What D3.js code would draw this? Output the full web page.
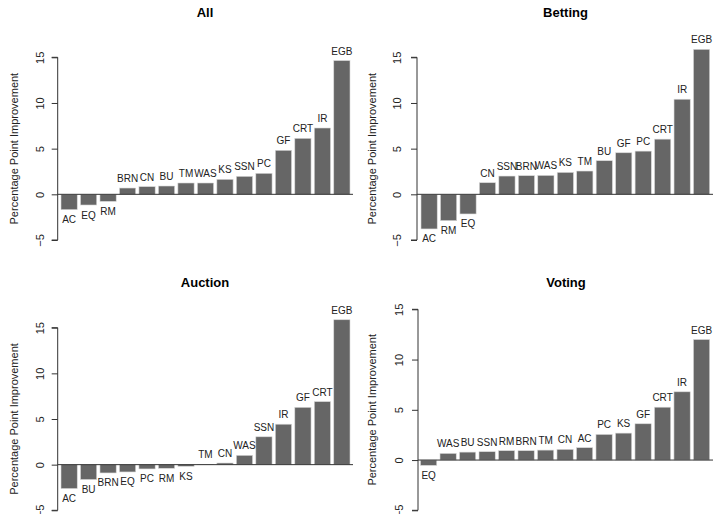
<!DOCTYPE html>
<html>
<head>
<meta charset="utf-8">
<script src="https://cdn.jsdelivr.net/npm/d3@7/dist/d3.min.js"></script>
<style>
  html, body { margin: 0; padding: 0; background: #fff; }
  svg { display: block; font-family: "Liberation Sans", Arial, Helvetica, sans-serif; }
</style>
</head>
<body>
<svg id="chart" width="714" height="514"></svg>
<script>
// ---- Data ----
const panelTitles = ["All", "Betting", "Auction", "Voting"];

const allCategories = ["AC","EQ","RM","BRN","CN","BU","TM","WAS","KS","SSN","PC","GF","CRT","IR","EGB"];
const allValues     = [-1.68,-1.17,-0.77,0.69,0.84,0.91,1.24,1.24,1.64,1.97,2.30,4.82,6.13,7.26,14.64];

const bettingCategories = ["AC","RM","EQ","CN","SSN","BRN","WAS","KS","TM","BU","GF","PC","CRT","IR","EGB"];
const bettingValues     = [-3.79,-2.88,-2.15,1.27,2.00,2.04,2.07,2.40,2.55,3.68,4.55,4.73,6.04,10.41,15.87];

const auctionCategories = ["AC","BU","BRN","EQ","PC","RM","KS","TM","CN","WAS","SSN","IR","GF","CRT","EGB"];
const auctionValues     = [-2.62,-1.63,-0.91,-0.80,-0.47,-0.40,-0.18,0.03,0.18,1.02,3.05,4.43,6.28,6.90,15.87];

const votingCategories = ["EQ","WAS","BU","SSN","RM","BRN","TM","CN","AC","PC","KS","GF","CRT","IR","EGB"];
const votingValues     = [-0.53,0.66,0.79,0.83,0.93,0.93,0.99,1.06,1.23,2.55,2.68,3.61,5.26,6.79,11.99];

const yTicks = [-5, 0, 5, 10, 15];
const yLabel = "Percentage Point Improvement";

// ---- Layout (pixel geometry per panel) ----
const panels = [
  { title: panelTitles[0], cats: allCategories, vals: allValues,
    axisX: 57.7, yTop: 57.3, yBot: 240, barL: 61, barR: 350, zeroR: 353,
    titleX: 205, titleY: 12.3, labX: 13.5, tickX: 40 },
  { title: panelTitles[1], cats: bettingCategories, vals: bettingValues,
    axisX: 417, yTop: 57.3, yBot: 240, barL: 421, barR: 709.7, zeroR: 713,
    titleX: 565.5, titleY: 12.3, labX: 371.5, tickX: 397 },
  { title: panelTitles[2], cats: auctionCategories, vals: auctionValues,
    axisX: 57.7, yTop: 327.7, yBot: 510.3, barL: 61, barR: 350, zeroR: 353,
    titleX: 205, titleY: 282, labX: 13.5, tickX: 40 },
  { title: panelTitles[3], cats: votingCategories, vals: votingValues,
    axisX: 418, yTop: 309.3, yBot: 510.3, barL: 420.5, barR: 709.7, zeroR: 713,
    titleX: 566, titleY: 282, labX: 372, tickX: 399 }
];

const svg = d3.select("#chart");
const barColor = "#666666";

panels.forEach(p => {
  const g = svg.append("g");
  const y = d3.scaleLinear().domain([-5, 15]).range([p.yBot, p.yTop]);
  const x = d3.scaleBand().domain(p.cats).range([p.barL, p.barR])
    .paddingInner(1/6).paddingOuter(0);

  // title
  g.append("text")
    .attr("x", p.titleX).attr("y", p.titleY)
    .attr("text-anchor", "middle").attr("dominant-baseline", "central")
    .attr("font-size", 13).attr("font-weight", "bold").attr("fill", "#000")
    .text(p.title);

  // y label
  g.append("text")
    .attr("transform", `translate(${p.labX},${(p.yTop + p.yBot) / 2 + (p.yBot - p.yTop) * 0.0}) rotate(-90)`)
    .attr("text-anchor", "middle").attr("dominant-baseline", "central")
    .attr("font-size", 11).attr("fill", "#222")
    .text(yLabel);

  // bars
  g.selectAll("rect.bar").data(p.cats.map((c, i) => ({ c, v: p.vals[i] })))
    .enter().append("rect")
    .attr("class", "bar")
    .attr("x", d => x(d.c))
    .attr("width", x.bandwidth())
    .attr("y", d => y(Math.max(0, d.v)))
    .attr("height", d => Math.abs(y(d.v) - y(0)))
    .attr("fill", barColor)
    .attr("stroke", "#d8d8d8").attr("stroke-width", 0.6);

  // bar labels
  g.selectAll("text.blab").data(p.cats.map((c, i) => ({ c, v: p.vals[i] })))
    .enter().append("text")
    .attr("class", "blab")
    .attr("x", d => x(d.c) + x.bandwidth() / 2)
    .attr("y", d => d.v >= 0 ? y(d.v) - 9.5 : y(d.v) + 10)
    .attr("text-anchor", "middle").attr("dominant-baseline", "central")
    .attr("font-size", 10).attr("fill", "#222")
    .text(d => d.c);

  // zero line
  g.append("line")
    .attr("x1", p.axisX).attr("x2", p.zeroR)
    .attr("y1", y(0)).attr("y2", y(0))
    .attr("stroke", "#333").attr("stroke-width", 1);

  // y axis
  const axis = d3.axisLeft(y).tickValues(yTicks).tickSize(6).tickFormat(d3.format("d"));
  const ag = g.append("g").attr("transform", `translate(${p.axisX},0)`).call(axis);
  ag.select(".domain").attr("d", `M-6,${p.yBot}H0V${p.yTop}H-6`).attr("stroke", "#333");
  ag.selectAll(".tick line").attr("stroke", "#333");
  ag.selectAll(".tick text").remove();
  ag.selectAll(".tick").append("text")
    .attr("transform", `translate(${p.tickX - p.axisX},0) rotate(-90)`)
    .attr("text-anchor", "middle").attr("dominant-baseline", "central")
    .attr("font-size", 11).attr("fill", "#222")
    .attr("font-family", '"Liberation Sans", Arial, Helvetica, sans-serif')
    .text(d => d3.format("d")(d));
});
</script>
</body>
</html>
